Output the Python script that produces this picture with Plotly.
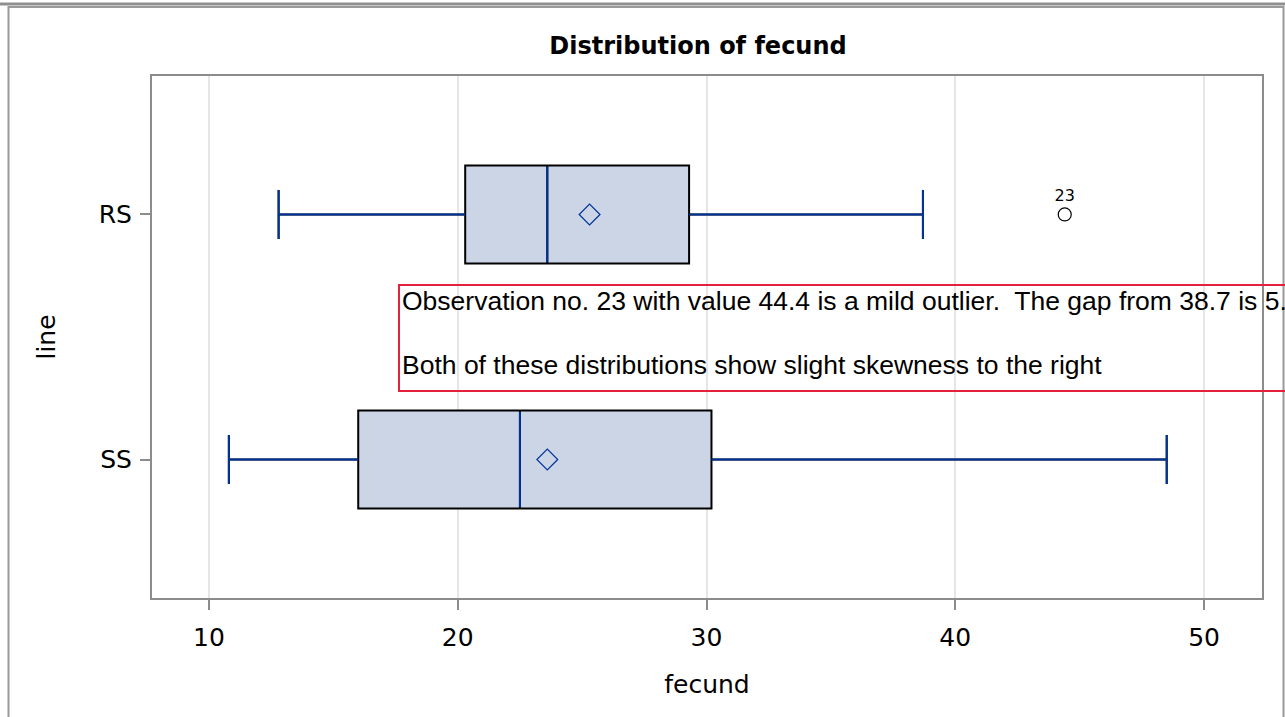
import plotly.graph_objects as go

# ---- data ----
groups = ["SS", "RS"]
positions = [0, 1]
lower_whisker = [10.8, 12.8]
q1 = [16.0, 20.3]
median = [22.5, 23.6]
q3 = [30.2, 29.3]
upper_whisker = [48.5, 38.7]
means = [23.6, 25.3]
outlier_pos = [1]
outlier_value = [44.4]
outlier_label = ["23"]
x_ticks = [10, 20, 30, 40, 50]

note_line1 = "Observation no. 23 with value 44.4 is a mild outlier.  The gap from 38.7 is 5.7."
note_line2 = "Both of these distributions show slight skewness to the right"

# ---- styles ----
BLUE = "#003399"
FILL = "#cbd5e6"
AXIS = "#8c8c8c"
GRID = "#e6e6e6"
FONT = "DejaVu Sans"
BOX_W = 0.4
CAP = BOX_W * 0.5 / 2

W, H = 1285, 717
L, R, T, B = 152, 23, 76, 119
PW, PH = W - L - R, H - T - B


def px_x(p):
    return (p - L) / PW


def px_y(p):
    return (H - B - p) / PH


fig = go.Figure()

for g, pos, lw, a, m, b, uw in zip(groups, positions, lower_whisker, q1, median, q3, upper_whisker):
    fig.add_trace(go.Box(
        y=[pos], q1=[a], median=[m], q3=[b], lowerfence=[lw], upperfence=[uw],
        orientation="h", width=BOX_W, fillcolor=FILL,
        line=dict(color="black", width=2), whiskerwidth=0.5,
        boxpoints=False, hoverinfo="skip", showlegend=False, name=g,
    ))
    xs = [lw, a, None, b, uw, None, lw, lw, None, uw, uw, None, m, m]
    ys = [pos, pos, None, pos, pos, None, pos - CAP, pos + CAP, None,
          pos - CAP, pos + CAP, None, pos - BOX_W / 2 + 0.006, pos + BOX_W / 2 - 0.006]
    fig.add_trace(go.Scatter(x=xs, y=ys, mode="lines",
                             line=dict(color=BLUE, width=2),
                             showlegend=False, hoverinfo="skip"))

fig.add_trace(go.Scatter(
    x=means, y=positions, mode="markers",
    marker=dict(symbol="diamond-open", size=16, color=BLUE, line=dict(width=1.2)),
    showlegend=False, hoverinfo="skip"))

fig.add_trace(go.Scatter(
    x=outlier_value, y=outlier_pos, mode="markers+text",
    text=outlier_label, textposition="top center",
    textfont=dict(family=FONT, size=16, color="black"),
    marker=dict(symbol="circle-open", size=13, color="black", line=dict(width=1.2)),
    showlegend=False, hoverinfo="skip"))

fig.update_layout(
    width=W, height=H,
    margin=dict(l=L, r=R, t=T, b=B),
    paper_bgcolor="white", plot_bgcolor="white",
    font=dict(family=FONT, color="black"),
    title=dict(text="<b>Distribution of fecund</b>", font=dict(size=24, family=FONT),
               x=px_x(698), xref="paper", xanchor="center",
               y=1 - 46 / H, yref="container", yanchor="middle"),
    xaxis=dict(range=[7.71, 52.33], tickvals=x_ticks, showgrid=True, gridcolor=GRID, gridwidth=2,
               zeroline=False, showline=True, mirror=True, linecolor=AXIS, linewidth=2,
               ticks="outside", ticklen=10, tickwidth=2, tickcolor=AXIS,
               ticklabelstandoff=6,
               tickfont=dict(size=25), title=dict(text="fecund", font=dict(size=25), standoff=24)),
    yaxis=dict(range=[-0.565, 1.565], tickvals=positions, ticktext=groups, showgrid=False,
               zeroline=False, showline=True, mirror=True, linecolor=AXIS, linewidth=2,
               ticks="outside", ticklen=10, tickwidth=2, tickcolor=AXIS,
               ticklabelstandoff=3,
               tickfont=dict(size=25), title=dict(text="line", font=dict(size=25), standoff=36)),
)

# outer frame
fig.add_shape(type="line", xref="paper", yref="paper", x0=-0.2, x1=1.2,
              y0=px_y(4), y1=px_y(4), line=dict(color="#8f8f8f", width=3))
fig.add_shape(type="rect", xref="paper", yref="paper", x0=px_x(8.5), x1=px_x(1283.5),
              y0=px_y(730), y1=px_y(7), line=dict(color="#9a9a9a", width=2))

# note box
fig.add_shape(type="rect", xref="paper", yref="paper", x0=px_x(399), x1=1.3,
              y0=px_y(391), y1=px_y(285), line=dict(color="#e3213f", width=2))
for txt, ypx in [(note_line1, 301), (note_line2, 365)]:
    fig.add_annotation(text=txt, xref="paper", yref="paper", x=px_x(400), y=px_y(ypx),
                       xanchor="left", yanchor="middle", align="left", showarrow=False,
                       font=dict(family="Liberation Sans", size=26.5, color="black"))

fig.write_html("out.html", config={"displayModeBar": False},
               post_script="document.body.style.margin='0px';")
